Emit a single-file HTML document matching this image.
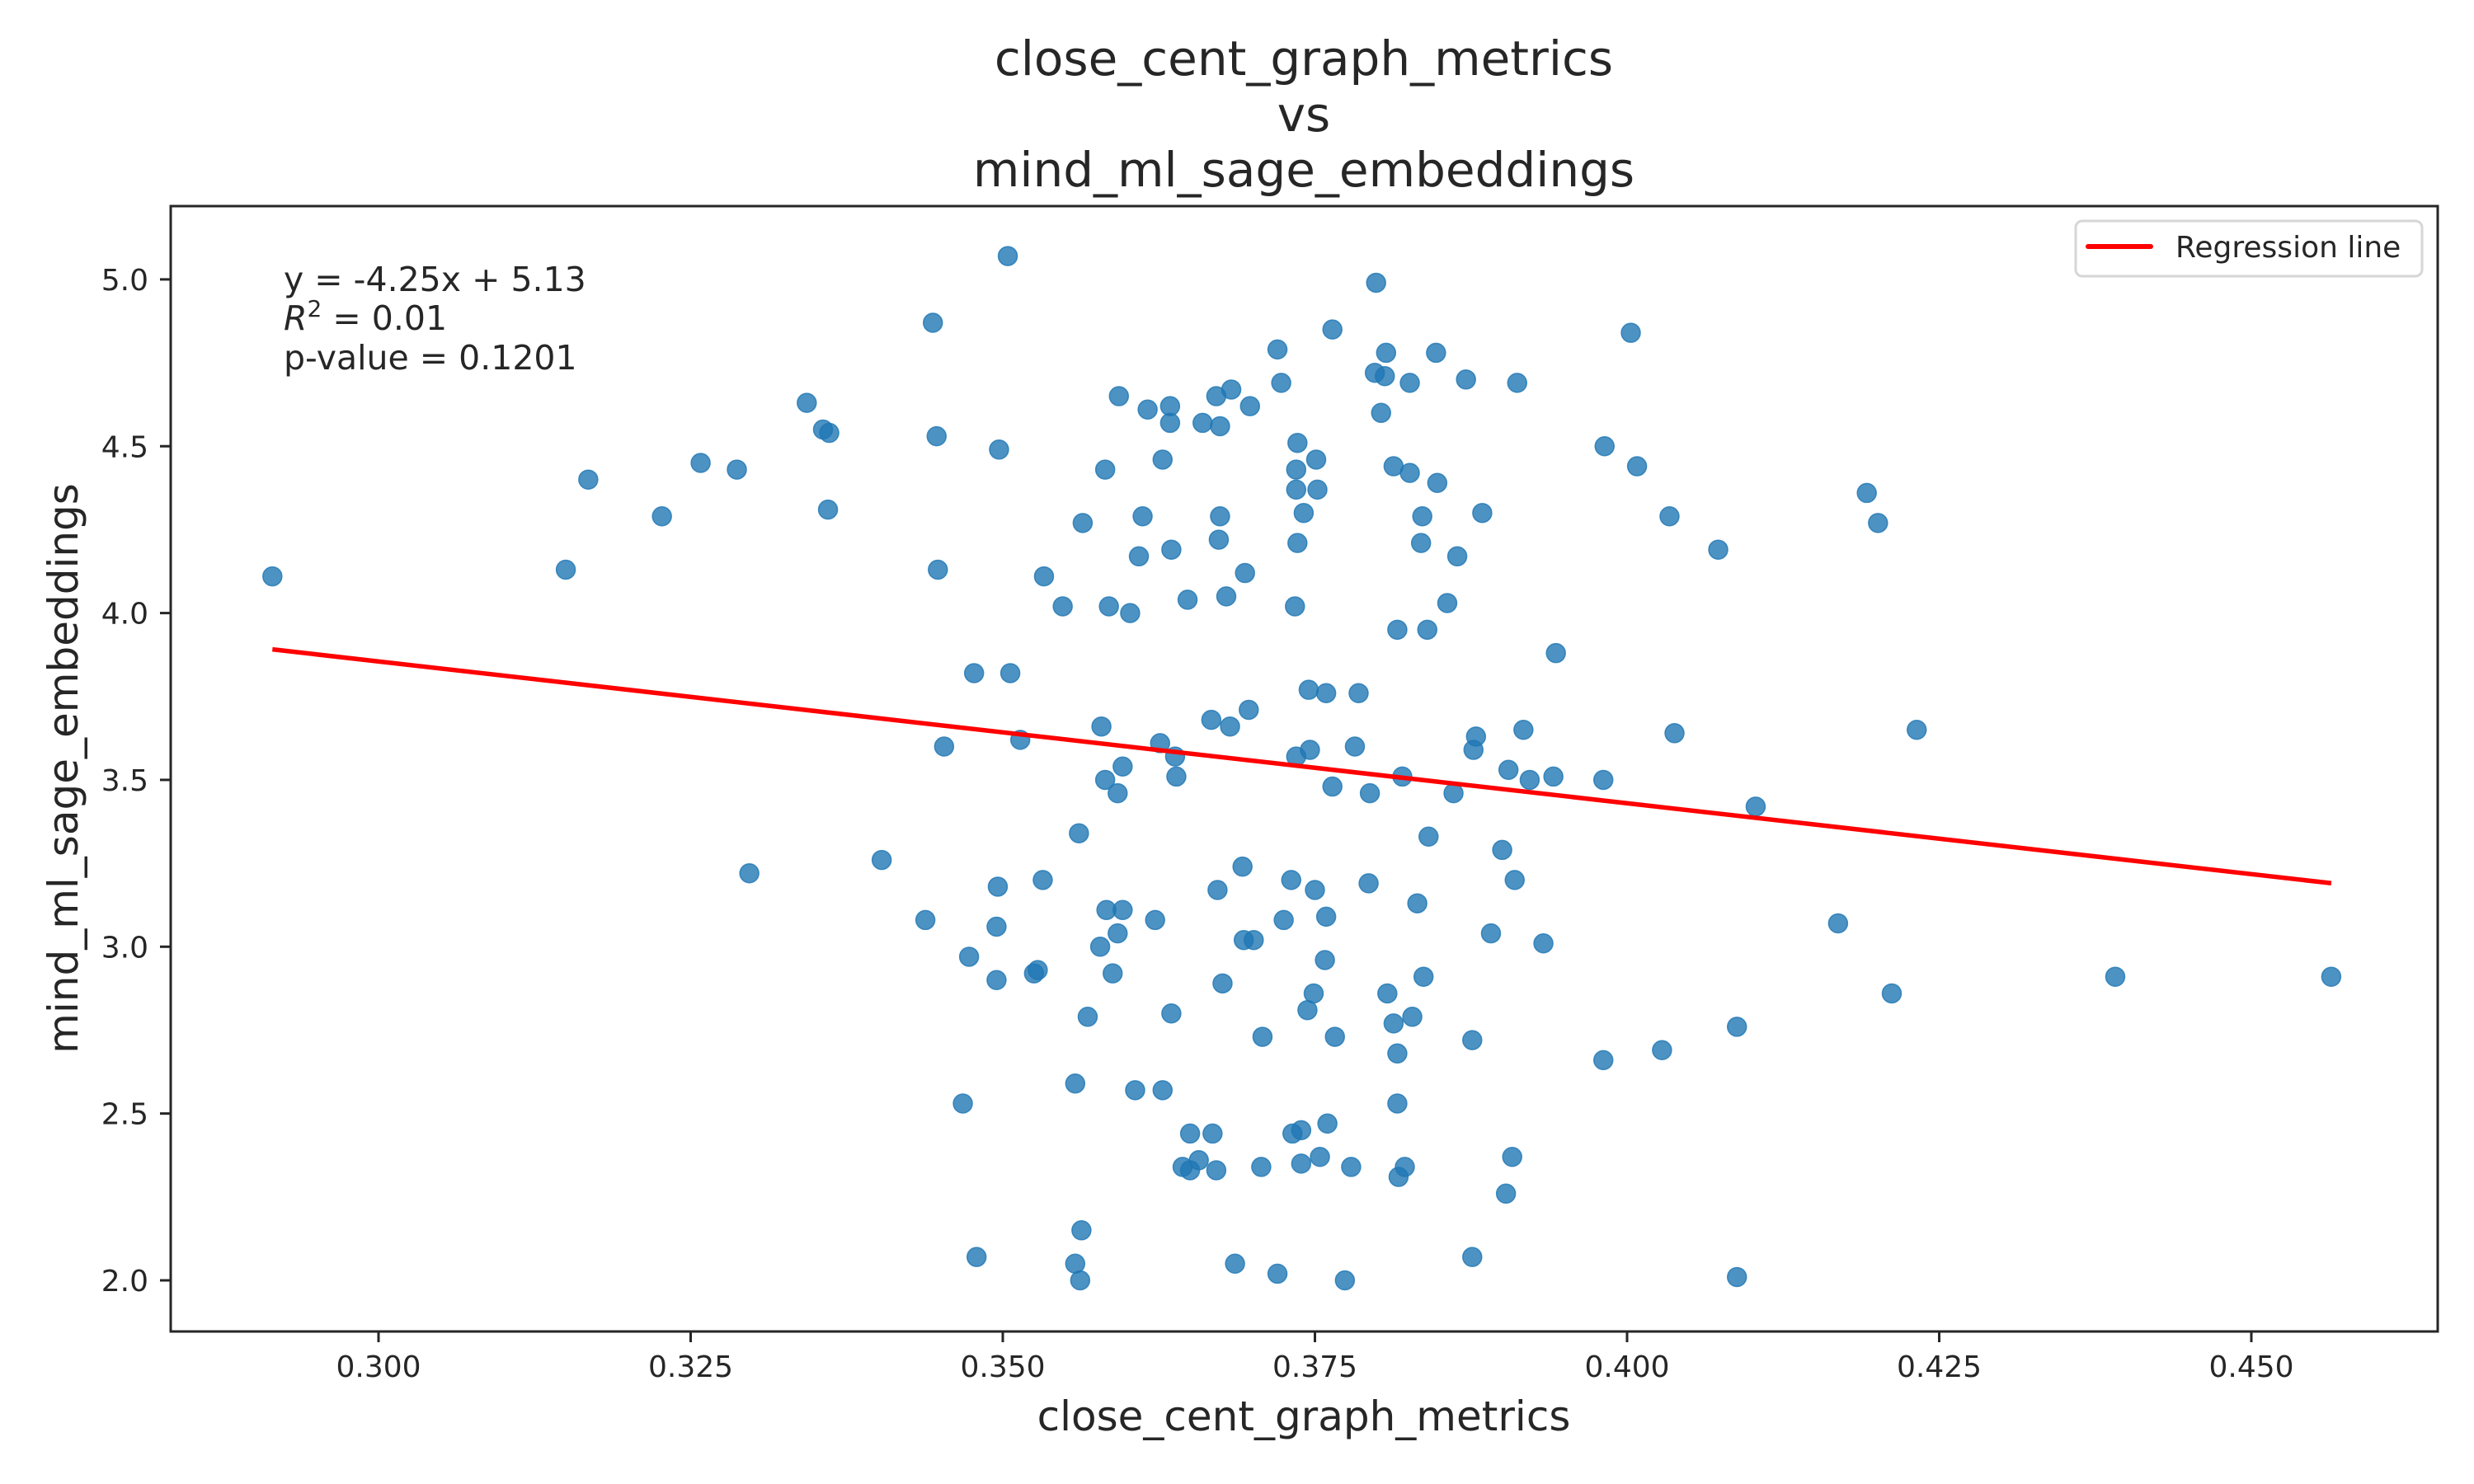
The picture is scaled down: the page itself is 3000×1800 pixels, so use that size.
<!DOCTYPE html>
<html><head><meta charset="utf-8"><style>
html,body{margin:0;padding:0;background:#fff;}
svg{display:block;font-family:"DejaVu Sans","Liberation Sans",sans-serif;}
</style></head><body>
<svg id="chart" width="3000" height="1800" viewBox="0 0 3000 1800" xmlns="http://www.w3.org/2000/svg">
<rect width="3000" height="1800" fill="#fff"/>
<g font-size="58" fill="#262626" text-anchor="middle">
<text x="1581" y="91">close_cent_graph_metrics</text>
<text x="1581" y="159">vs</text>
<text x="1581" y="226">mind_ml_sage_embeddings</text>
</g>
<g id="xticks"></g>
<g id="yticks"></g>
<g id="points"></g>
<g id="reg"></g>
<rect x="207" y="250" width="2749" height="1365" fill="none" stroke="#262626" stroke-width="3"/>
<text x="1581" y="1735" font-size="50" fill="#262626" text-anchor="middle">close_cent_graph_metrics</text>
<text x="0" y="0" font-size="50" fill="#262626" text-anchor="middle" transform="translate(94,932) rotate(-90)">mind_ml_sage_embeddings</text>
<g font-size="41" fill="#262626">
<text x="344" y="353">y = -4.25x + 5.13</text>
<text x="344" y="400"><tspan font-style="italic">R</tspan><tspan font-size="28" dy="-16">2</tspan><tspan dy="16"> = 0.01</tspan></text>
<text x="344" y="448">p-value = 0.1201</text>
</g>
<g>
<rect x="2517" y="268" width="420" height="67" rx="8" fill="#fff" fill-opacity="0.8" stroke="#d6d6d6" stroke-width="3"/>
<line x1="2532" y1="299" x2="2608" y2="299" stroke="#ff0000" stroke-width="6" stroke-linecap="round"/>
<text x="2638" y="312" font-size="36" fill="#262626">Regression line</text>
</g>
</svg>
<script>
const xTicks = [0.300, 0.325, 0.350, 0.375, 0.400, 0.425, 0.450];
const xTickLabels = ["0.300","0.325","0.350","0.375","0.400","0.425","0.450"];
const yTicks = [2.0, 2.5, 3.0, 3.5, 4.0, 4.5, 5.0];
const yTickLabels = ["2.0","2.5","3.0","3.5","4.0","4.5","5.0"];
const regSlope = -4.25;
const regIntercept = 5.13;
const xValues = [0.2915,0.315,0.3168,0.3227,0.3258,0.3287,0.3297,0.3343,0.3356,0.3361,0.336,0.3403,0.3438,0.3444,0.3447,0.3448,0.3453,0.3468,0.3473,0.3477,0.3479,0.3495,0.3496,0.3495,0.3497,0.3504,0.3506,0.3514,0.3525,0.3528,0.3532,0.3533,0.3548,0.3558,0.3558,0.3562,0.3563,0.3561,0.3564,0.3568,0.3578,0.3579,0.3582,0.3582,0.3583,0.3585,0.3588,0.3592,0.3592,0.3593,0.3596,0.3596,0.3602,0.3606,0.3609,0.3612,0.3616,0.3622,0.3626,0.3628,0.3628,0.3634,0.3634,0.3635,0.3635,0.3638,0.3639,0.3644,0.3648,0.3650,0.3650,0.3657,0.3660,0.3667,0.3668,0.3671,0.3671,0.3672,0.3673,0.3674,0.3674,0.3676,0.3679,0.3682,0.3683,0.3686,0.3692,0.3693,0.3694,0.3697,0.3698,0.3701,0.3707,0.3708,0.3720,0.3720,0.3723,0.3725,0.3731,0.3732,0.3734,0.3735,0.3735,0.3735,0.3736,0.3736,0.3739,0.3739,0.3741,0.3744,0.3745,0.3746,0.3749,0.3750,0.3751,0.3752,0.3754,0.3758,0.3759,0.3759,0.3760,0.3764,0.3764,0.3766,0.3774,0.3779,0.3782,0.3785,0.3793,0.3794,0.3798,0.3799,0.3803,0.3806,0.3807,0.3808,0.3813,0.3813,0.3816,0.3816,0.3816,0.3817,0.3820,0.3822,0.3826,0.3826,0.3828,0.3832,0.3835,0.3836,0.3837,0.3840,0.3841,0.3847,0.3848,0.3856,0.3861,0.3864,0.3871,0.3876,0.3876,0.3877,0.3879,0.3884,0.3891,0.3900,0.3903,0.3905,0.3908,0.3910,0.3912,0.3917,0.3922,0.3933,0.3941,0.3943,0.3981,0.3981,0.3982,0.4003,0.4008,0.4028,0.4034,0.4038,0.4073,0.4088,0.4088,0.4103,0.4169,0.4192,0.4201,0.4212,0.4232,0.4391,0.4564];
const yValues = [4.11,4.13,4.40,4.29,4.45,4.43,3.22,4.63,4.55,4.54,4.31,3.26,3.08,4.87,4.53,4.13,3.60,2.53,2.97,3.82,2.07,3.06,3.18,2.90,4.49,5.07,3.82,3.62,2.92,2.93,3.20,4.11,4.02,2.59,2.05,2.00,2.15,3.34,4.27,2.79,3.00,3.66,4.43,3.50,3.11,4.02,2.92,3.04,3.46,4.65,3.11,3.54,4.00,2.57,4.17,4.29,4.61,3.08,3.61,4.46,2.57,4.62,4.57,2.80,4.19,3.57,3.51,2.34,4.04,2.44,2.33,2.36,4.57,3.68,2.44,2.33,4.65,3.17,4.22,4.56,4.29,2.89,4.05,3.66,4.67,2.05,3.24,3.02,4.12,3.71,4.62,3.02,2.34,2.73,4.79,2.02,4.69,3.08,3.20,2.44,4.02,4.37,4.43,3.57,4.51,4.21,2.45,2.35,4.30,2.81,3.77,3.59,2.86,3.17,4.46,4.37,2.37,2.96,3.76,3.09,2.47,4.85,3.48,2.73,2.00,2.34,3.60,3.76,3.19,3.46,4.72,4.99,4.60,4.71,4.78,2.86,2.77,4.44,3.95,2.53,2.68,2.31,3.51,2.34,4.69,4.42,2.79,3.13,4.21,4.29,2.91,3.95,3.33,4.78,4.39,4.03,3.46,4.17,4.70,2.72,2.07,3.59,3.63,4.30,3.04,3.29,2.26,3.53,2.37,3.20,4.69,3.65,3.50,3.01,3.51,3.88,2.66,3.50,4.50,4.84,4.44,2.69,4.29,3.64,4.19,2.76,2.01,3.42,3.07,4.36,4.27,2.86,3.65,2.91,2.91];

const NS = "http://www.w3.org/2000/svg";
function xScale(v){ return 459 + (v - 0.3) * 15140; }
function yScale(v){ return 1553 - (v - 2) * 404.7; }
function mk(tag, attrs, parent){ const e = document.createElementNS(NS, tag); for (const k in attrs) e.setAttribute(k, attrs[k]); parent.appendChild(e); return e; }

const gx = document.getElementById('xticks');
xTicks.forEach((t, i) => {
  const X = xScale(t);
  const ln = mk('line', {x1:X, y1:1615, x2:X, y2:1628, stroke:'#262626', 'stroke-width':3}, gx);
  
  
  const tx = mk('text', {x:X, y:1670, 'font-size':36, fill:'#262626', 'text-anchor':'middle'}, gx);
  tx.textContent = xTickLabels[i];
  
  
});
const gy = document.getElementById('yticks');
yTicks.forEach((t, i) => {
  const Y = yScale(t);
  const ln = mk('line', {x1:194, y1:Y, x2:207, y2:Y, stroke:'#262626', 'stroke-width':3}, gy);
  
  
  const tx = mk('text', {x:180, y:Y + 13, 'font-size':36, fill:'#262626', 'text-anchor':'end'}, gy);
  tx.textContent = yTickLabels[i];
  
  
});
const gp = document.getElementById('points');
xValues.forEach((xv, i) => {
  const c = mk('circle', {cx:xScale(xv), cy:yScale(yValues[i]), r:11.5, fill:'#1f77b4', 'fill-opacity':0.8, stroke:'#1f77b4', 'stroke-opacity':0.8, 'stroke-width':1.5}, gp);
  
  
});
const xmin = Math.min(...xValues), xmax = Math.max(...xValues);
const rl = mk('line', {x1:xScale(xmin), y1:yScale(regSlope*xmin+regIntercept), x2:xScale(xmax), y2:yScale(regSlope*xmax+regIntercept), stroke:'#ff0000', 'stroke-width':5.5}, document.getElementById('reg'));


</script>
</body></html>
